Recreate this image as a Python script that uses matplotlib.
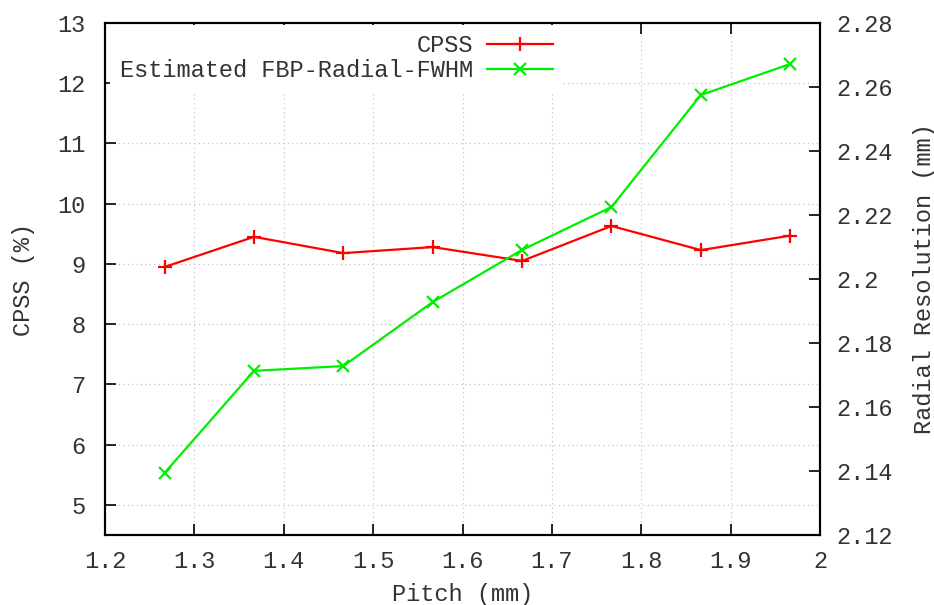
import numpy as np
import matplotlib.pyplot as plt

plt.rcParams['font.family'] = ['Liberation Mono', 'DejaVu Sans Mono']
plt.rcParams['font.size'] = 17

# data
pitch = [1.2667, 1.3667, 1.4667, 1.5667, 1.6667, 1.7667, 1.8667, 1.9667]
cpss = [8.95, 9.45, 9.18, 9.28, 9.05, 9.63, 9.23, 9.47]
fwhm = [2.1394, 2.1713, 2.1728, 2.1928, 2.2091, 2.2225, 2.2575, 2.2672]

xticks = [1.2, 1.3, 1.4, 1.5, 1.6, 1.7, 1.8, 1.9, 2.0]
xticklabels = ["1.2", "1.3", "1.4", "1.5", "1.6", "1.7", "1.8", "1.9", "2"]
yticks = [5, 6, 7, 8, 9, 10, 11, 12, 13]
y2ticks = [2.12, 2.14, 2.16, 2.18, 2.2, 2.22, 2.24, 2.26, 2.28]
y2ticklabels = ["2.12", "2.14", "2.16", "2.18", "2.2", "2.22", "2.24", "2.26", "2.28"]

fig = plt.figure(figsize=(9.34, 6.05), dpi=100)
ax = fig.add_axes([105/934, 1-535/605, (820-105)/934, (535-23)/605])
ax2 = ax.twinx()

l1, = ax.plot(pitch, cpss, color="#ff0000", lw=1.6, marker="+", ms=10, mew=1.6, label="CPSS")
l2, = ax2.plot(pitch, fwhm, color="#00ee00", lw=1.6, marker="x", ms=8, mew=1.6,
               label="Estimated FBP-Radial-FWHM")

ax.set_xlim(1.2, 2.0)
ax.set_ylim(4.5, 13)
ax2.set_ylim(2.12, 2.28)
ax.set_xticks(xticks)
ax.set_xticklabels(xticklabels)
ax.set_yticks(yticks)
ax2.set_yticks(y2ticks)
ax2.set_yticklabels(y2ticklabels)

ax.grid(True, ls=(0, (1, 3)), color="#bbbbbb", lw=0.8)
ax.set_axisbelow(True)

for a in (ax, ax2):
    for s in a.spines.values():
        s.set_linewidth(1.5)
        s.set_color("black")
ax.tick_params(axis="both", direction="in", length=8, width=1.2, pad=14,
               top=True, labelcolor="#333333")
ax.tick_params(axis="x", pad=11)
ax2.tick_params(axis="y", direction="in", length=8, width=1.2, pad=12, labelcolor="#333333")

ax.set_xlabel("Pitch (mm)", color="#333333", labelpad=7)
ax.set_ylabel("CPSS (%)", color="#333333", labelpad=16)
ax2.set_ylabel("Radial Resolution (mm)", color="#333333", labelpad=14)

leg = ax2.legend(handles=[l1, l2], loc="upper right", bbox_to_anchor=(0.64, 0.997),
                 markerfirst=False, frameon=True, framealpha=1, edgecolor="none",
                 fancybox=False, handlelength=2.8, borderaxespad=0.0,
                 labelspacing=0.1, handletextpad=0.6)
for t in leg.get_texts():
    t.set_color("#333333")
    t.set_ha("right")

fig.savefig("out.png", dpi=100)
